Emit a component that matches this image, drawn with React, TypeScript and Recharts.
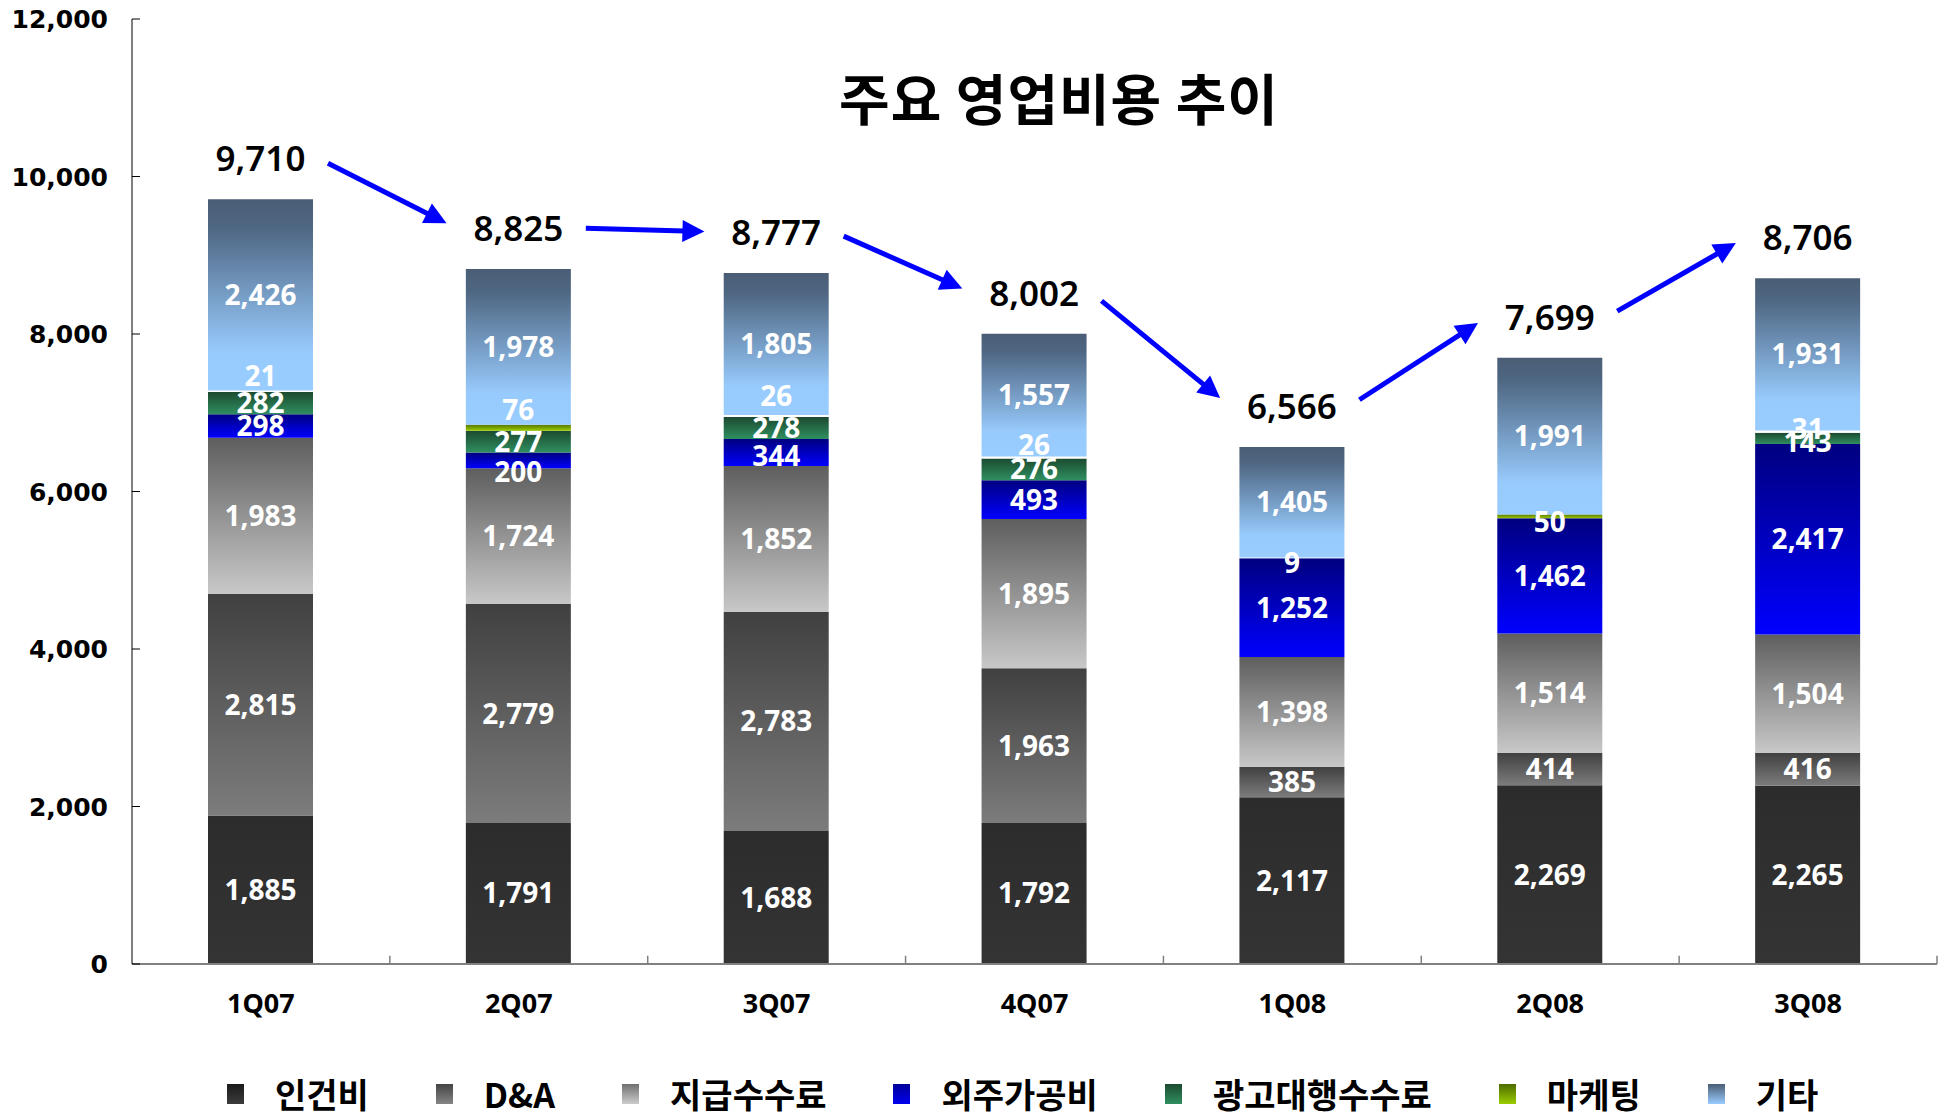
import { Bar, BarChart, Cell, LabelList, ReferenceLine, XAxis, YAxis } from "recharts";

const quarters = ["1Q07", "2Q07", "3Q07", "4Q07", "1Q08", "2Q08", "3Q08"];
const labor = [1885, 1791, 1688, 1792, 2117, 2269, 2265];
const depreciation = [2815, 2779, 2783, 1963, 385, 414, 416];
const fees = [1983, 1724, 1852, 1895, 1398, 1514, 1504];
const outsourcing = [298, 200, 344, 493, 1252, 1462, 2417];
const adAgency = [282, 277, 278, 276, 0, 0, 143];
const marketing = [21, 76, 26, 26, 9, 50, 31];
const others = [2426, 1978, 1805, 1557, 1405, 1991, 1931];
const totals = [9710, 8825, 8777, 8002, 6566, 7699, 8706];
const yTicks = [0, 2000, 4000, 6000, 8000, 10000, 12000];

const W = 1947;
const H = 1112;
const AXIS_Y = 964;

// gradients top -> bottom
const SERIES = [
  { key: "labor", name: "인건비", values: labor, grad: ["#2c2c2c", "#343434"], legend: ["#1a1a1a", "#3c3c3c"] },
  { key: "da", name: "D&A", values: depreciation, grad: ["#404040", "#7c7c7c"], legend: ["#444444", "#858585"] },
  { key: "fees", name: "지급수수료", values: fees, grad: ["#5e5e5e", "#c8c8c8"], legend: ["#707070", "#cccccc"] },
  { key: "out", name: "외주가공비", values: outsourcing, grad: ["#000080", "#0000ff"], legend: ["#000099", "#0000ee"] },
  { key: "ad", name: "광고대행수수료", values: adAgency, grad: ["#1c4a30", "#2f8f60"], legend: ["#1c4a30", "#2f8f60"] },
  { key: "mkt", name: "마케팅", values: marketing, grad: ["#5a7800", "#9acd00"], legend: ["#4d6b00", "#9acd00"] },
  { key: "etc", name: "기타", values: others, grad: ["#4a5d75", "#98cbfd"], legend: ["#4a5d75", "#99ccff"] },
];

// marketing drawn as a thin white separator in most quarters
const MKT_WHITE = [true, false, true, true, true, false, true];
// small nudges for crowded segment labels (px)
const LABEL_DY: Record<string, number[]> = {
  out: [0, 12, 3, 0, 0, 0, 0],
  ad: [0, 0, 0, 0, 0, 0, 4],
  mkt: [-15, -18, -20, -12, 5, 6, -3],
};

const data = quarters.map((q, i) => {
  const row: Record<string, string | number> = { quarter: q, idx: i };
  SERIES.forEach((s) => (row[s.key] = s.values[i]));
  return row;
});

// running stack tops per series, used to map a label back to its row
const stackTops = SERIES.map((_, k) =>
  quarters.map((__, i) => SERIES.slice(0, k + 1).reduce((acc, s) => acc + s.values[i], 0))
);

const numFont = "'Noto Sans', 'Open Sans', sans-serif";
const krFont = "'Noto Sans CJK KR', 'Noto Sans', sans-serif";

function YTick(props: any) {
  const { y, payload } = props;
  return (
    <text x={108} y={y + 9} textAnchor="end" fontFamily="'DejaVu Sans', sans-serif" fontWeight="bold" fontSize={25} fill="#000">
      {Number(payload.value).toLocaleString("en-US")}
    </text>
  );
}

function XTick(props: any) {
  const { x, payload } = props;
  return (
    <text x={x} y={AXIS_Y + 49} textAnchor="middle" fontFamily={numFont} fontWeight="bold" fontSize={27} fill="#000">
      {payload.value}
    </text>
  );
}

function segLabel(k: number) {
  const s = SERIES[k];
  const dys = LABEL_DY[s.key];
  return (props: any) => {
    const vb = props.viewBox ?? props;
    const { x, y, width, height } = vb;
    const raw = Array.isArray(props.value) ? props.value[1] : props.value;
    let i = stackTops[k].findIndex((top, r) => top === raw && s.values[r] > 0);
    if (i < 0) i = props.index;
    const v = s.values[i];
    if (!v) return null;
    const cy = y + height / 2 + (dys ? dys[i] ?? 0 : 0);
    return (
      <text x={x + width / 2} y={cy + 10} textAnchor="middle" fontFamily={numFont} fontWeight="bold" fontSize={28} fill="#fff">
        {v.toLocaleString("en-US")}
      </text>
    );
  };
}

function TotalLabel(props: any) {
  const vb = props.viewBox ?? props;
  const { x, y, width } = vb;
  return (
    <text x={x + width / 2} y={y - 28} textAnchor="middle" fontFamily={numFont} fontWeight={600} fontSize={35} fill="#000">
      {totals[props.index].toLocaleString("en-US")}
    </text>
  );
}

function Arrow(props: any) {
  const { x1, y1, x2, y2 } = props;
  const dx = x2 - x1;
  const dy = y2 - y1;
  const len = Math.hypot(dx, dy) || 1;
  const ux = dx / len;
  const uy = dy / len;
  const head = 22;
  const half = 11;
  const bx = x2 - ux * head;
  const by = y2 - uy * head;
  const px = -uy;
  const py = ux;
  return (
    <g>
      <line x1={x1} y1={y1} x2={bx + ux * 2} y2={by + uy * 2} stroke="#0000ff" strokeWidth={5} />
      <polygon
        points={`${x2},${y2} ${bx + px * half},${by + py * half} ${bx - px * half},${by - py * half}`}
        fill="#0000ff"
      />
    </g>
  );
}

const boundaries = quarters.map((_, i) => i + 0.5);
// total labels sit ~520 units above each bar; arrows run between them
const LABEL_LIFT = 520;

export default function App() {
  return (
    <div style={{ position: "absolute", left: 0, top: 0, width: W, height: H, background: "#fff" }}>
      <BarChart width={W} height={H} data={data} margin={{ top: 19, right: 10, left: 0, bottom: 0 }} barSize={105}>
        <defs>
          {SERIES.map((s) => (
            <linearGradient key={s.key} id={`g-${s.key}`} x1="0" y1="0" x2="0" y2="1">
              <stop offset="0%" stopColor={s.grad[0]} />
              {s.key === "etc" && <stop offset="15%" stopColor="#4f6783" />}
              <stop offset={s.key === "etc" ? "80%" : "100%"} stopColor={s.grad[1]} />
              {s.key === "etc" && <stop offset="100%" stopColor="#99ccff" />}
            </linearGradient>
          ))}
        </defs>
        <XAxis
          dataKey="quarter"
          height={148}
          interval={0}
          axisLine={{ stroke: "#808080", strokeWidth: 2 }}
          tickLine={false}
          tick={(p: any) => <XTick {...p} />}
        />
        <XAxis xAxisId="num" type="number" dataKey="idx" domain={[-0.5, 6.5]} allowDataOverflow hide />
        <YAxis
          domain={[0, 12000]}
          ticks={yTicks}
          interval={0}
          width={132}
          axisLine={{ stroke: "#000", strokeWidth: 1 }}
          tickLine={{ stroke: "#000" }}
          tickSize={-8}
          tick={(p: any) => <YTick {...p} />}
        />
        {SERIES.map((s, k) => (
          <Bar key={s.key} dataKey={s.key} name={s.name} stackId="a" fill={`url(#g-${s.key})`} isAnimationActive={false}>
            {s.key === "mkt" &&
              s.values.map((_, i) => <Cell key={i} fill={MKT_WHITE[i] ? "#ffffff" : "url(#g-mkt)"} />)}
            <LabelList content={segLabel(k)} />
            {s.key === "etc" && <LabelList content={TotalLabel} />}
          </Bar>
        ))}
        {boundaries.map((b) => (
          <ReferenceLine
            key={`b${b}`}
            xAxisId="num"
            segment={[
              { x: b, y: 0 },
              { x: b, y: 105 },
            ]}
            stroke="#808080"
            strokeWidth={1.5}
            ifOverflow="visible"
          />
        ))}
        {totals.slice(0, -1).map((t, i) => {
          const a = t + LABEL_LIFT;
          const b = totals[i + 1] + LABEL_LIFT;
          const d = b - a;
          return (
            <ReferenceLine
              key={`a${i}`}
              xAxisId="num"
              segment={[
                { x: i + 0.26, y: a + 0.07 * d },
                { x: i + 0.72, y: b - 0.07 * d },
              ]}
              ifOverflow="visible"
              shape={(p: any) => <Arrow {...p} />}
            />
          );
        })}
      </BarChart>

      <div
        style={{
          position: "absolute",
          left: 759,
          width: 600,
          top: 63,
          textAlign: "center",
          fontFamily: krFont,
          fontWeight: 700,
          fontSize: 55,
          lineHeight: "66px",
          letterSpacing: 1,
          color: "#000",
          whiteSpace: "nowrap",
        }}
      >
        주요 영업비용 추이
      </div>

      <div style={{ position: "absolute", left: 227, top: 1079, height: 30, display: "flex", alignItems: "center", gap: 67 }}>
        {SERIES.map((s) => (
          <div key={s.key} style={{ display: "flex", alignItems: "center", gap: 31 }}>
            <span
              style={{
                display: "inline-block",
                width: 17,
                height: 20,
                background: `linear-gradient(${s.legend[0]}, ${s.legend[1]})`,
              }}
            />
            <span style={{ fontFamily: krFont, fontWeight: 700, fontSize: 34, lineHeight: "30px", color: "#000" }}>
              {s.name}
            </span>
          </div>
        ))}
      </div>
    </div>
  );
}
